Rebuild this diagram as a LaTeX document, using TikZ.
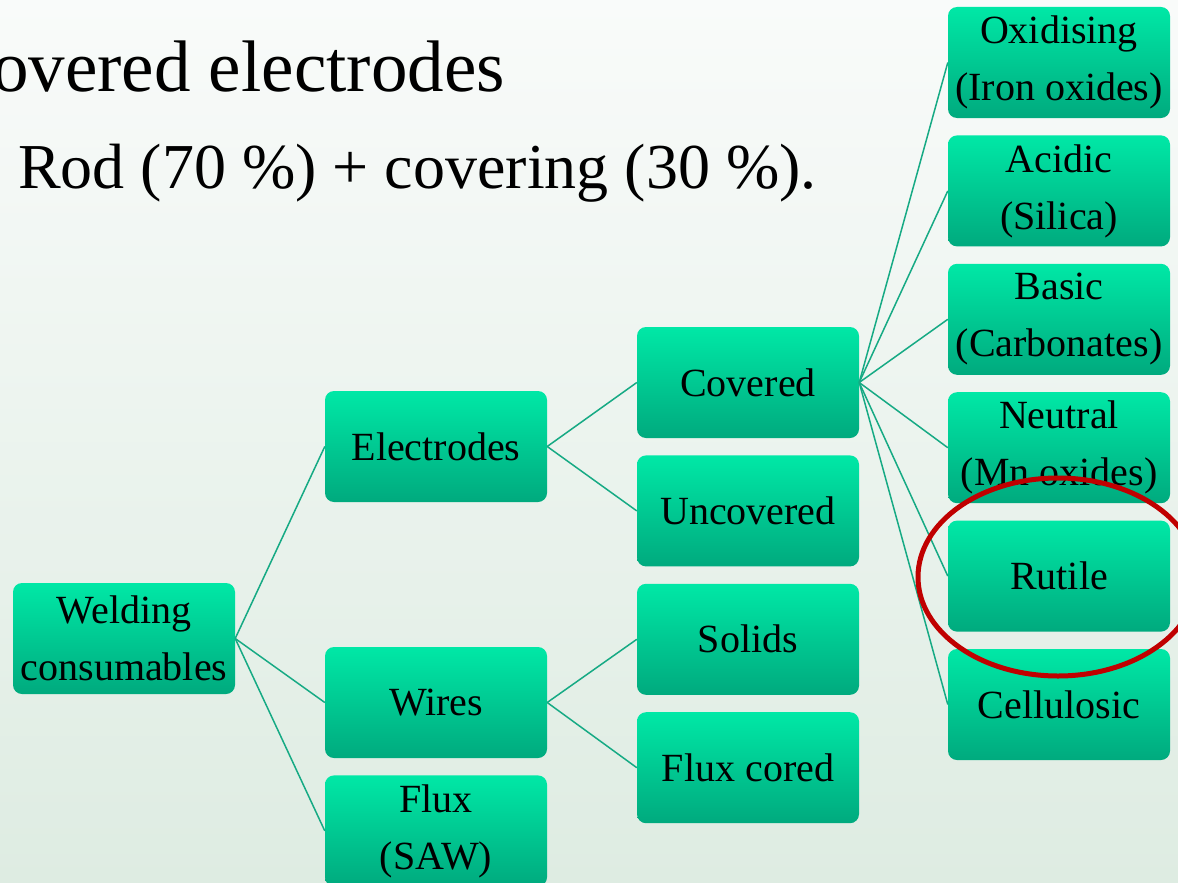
\documentclass[tikz,border=0pt]{standalone}
\usepackage{fontspec}
\setmainfont{Liberation Serif}
\usetikzlibrary{positioning}

\definecolor{boxtop}{RGB}{0,232,166}
\definecolor{boxbot}{RGB}{0,170,126}
\definecolor{linkcol}{RGB}{22,170,132}
\definecolor{bgtop}{RGB}{249,251,250}
\definecolor{bgbot}{RGB}{222,236,226}
\definecolor{ringred}{RGB}{192,0,0}

\begin{document}
\begin{tikzpicture}[
  x=1pt, y=-1pt,
  node distance=17pt and 90pt,
  box/.style={rectangle, rounded corners=9pt, top color=boxtop, bottom color=boxbot, align=center, minimum width=222pt, minimum height=111pt, inner sep=2pt, font=\fontsize{40}{57}\selectfont},
  link/.style={draw=linkcol, line width=1.5pt}
]
\clip (0,0) rectangle (1178,883);
\shade[top color=bgtop, bottom color=bgbot] (0,0) rectangle (1178,883);
\node[anchor=base east, inner sep=0pt, font=\fontsize{73}{80}\selectfont] (title) at (505,92) {Covered electrodes};
\node[anchor=base west, inner sep=0pt, font=\fontsize{64}{70}\selectfont] (sub) at (18,188) {Rod (70 \%) + covering (30 \%).};
\node[box] (wc) at (124,638.5) {Welding\\consumables};
\node[box] (ele) at (436,446.5) {Electrodes};
\node[box] (wir) at (436,702.5) {Wires};
\node[box, below=of wir] (flx) {Flux\\(SAW)};
\node[box] (cov) at (748,382.5) {Covered};
\node[box, below=of cov] (unc) {Uncovered};
\node[box, below=of unc] (sol) {Solids};
\node[box, below=of sol] (fxc) {Flux cored};
\node[box] (oxi) at (1059,62.5) {Oxidising\\(Iron oxides)};
\node[box, below=of oxi] (aci) {Acidic\\(Silica)};
\node[box, below=of aci] (bas) {Basic\\(Carbonates)};
\node[box, below=of bas] (neu) {Neutral\\(Mn oxides)};
\node[box, below=of neu] (rut) {Rutile};
\node[box, below=of rut] (cel) {Cellulosic};
\draw[link] (wc.east)--(ele.west); \draw[link] (wc.east)--(wir.west); \draw[link] (wc.east)--(flx.west);
\draw[link] (ele.east)--(cov.west); \draw[link] (ele.east)--(unc.west);
\draw[link] (wir.east)--(sol.west); \draw[link] (wir.east)--(fxc.west);
\draw[link] (cov.east)--(oxi.west); \draw[link] (cov.east)--(aci.west); \draw[link] (cov.east)--(bas.west);
\draw[link] (cov.east)--(neu.west); \draw[link] (cov.east)--(rut.west); \draw[link] (cov.east)--(cel.west);
\draw[ringred, line width=5pt] (1058,577) ellipse [x radius=140pt, y radius=99pt];
\end{tikzpicture}
\end{document}
